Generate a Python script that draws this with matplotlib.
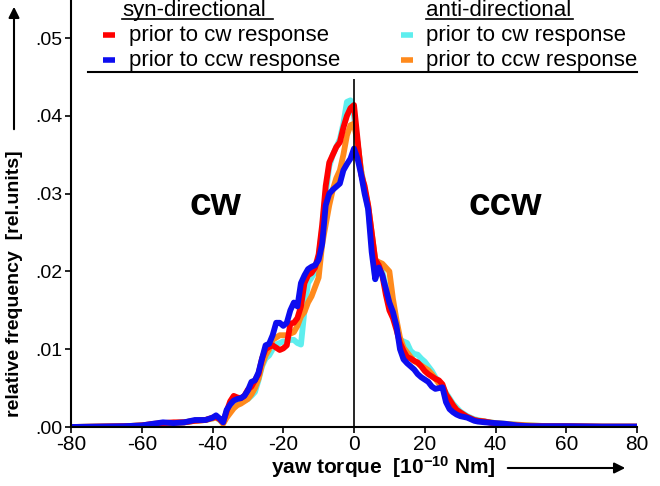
import matplotlib
matplotlib.use("Agg")
import matplotlib.pyplot as plt
from matplotlib.lines import Line2D
from matplotlib.patches import FancyArrowPatch
from matplotlib.ticker import FuncFormatter

plt.rcParams["font.family"] = ["Liberation Sans", "DejaVu Sans"]
plt.rcParams["mathtext.fontset"] = "custom"
plt.rcParams["mathtext.rm"] = "Liberation Sans"
plt.rcParams["mathtext.default"] = "regular"
plt.rcParams["axes.unicode_minus"] = False

# yaw torque bins [10^-10 Nm]
torque = ([-80, -65, -60, -57, -54, -51, -48, -45, -42]
          + list(range(-40, 36))
          + [37, 40, 43, 46, 50, 55, 60, 70, 80])

# syn-directional
syn_cw = ([0.0, 0.0001, 0.0002, 0.0004, 0.0005, 0.0006, 0.0006, 0.0008, 0.0009,
           0.0012, 0.0013, 0.0010, 0.0006, 0.0020, 0.0033, 0.0040, 0.0038, 0.0037, 0.0040,
           0.0048, 0.0052, 0.0060, 0.0068, 0.0088, 0.0100, 0.0103, 0.0105, 0.0102, 0.0099,
           0.0101, 0.0105, 0.0133, 0.0134, 0.0140, 0.0155, 0.0185, 0.0195, 0.0198, 0.0205,
           0.0222, 0.0260, 0.0310, 0.0340, 0.0350, 0.0360, 0.0366, 0.0385, 0.0400, 0.0410,
           0.0414, 0.0370, 0.0325, 0.0310, 0.0285, 0.0250, 0.0215, 0.0208, 0.0195, 0.0170,
           0.0150, 0.0140, 0.0125, 0.0108, 0.0098, 0.0090, 0.0088, 0.0085, 0.0083, 0.0078,
           0.0072, 0.0068, 0.0065, 0.0062, 0.0060, 0.0055, 0.0042, 0.0035, 0.0028, 0.0022,
           0.0019, 0.0016, 0.0013, 0.0011, 0.0009, 0.0008]
          + [0.0007, 0.0004, 0.0003, 0.0002, 0.0001, 0.0001, 0.0001, 0.00005, 0.00005])
syn_ccw = ([0.0, 0.0001, 0.0002, 0.0004, 0.0006, 0.0005, 0.0006, 0.0009, 0.0009,
            0.0012, 0.0015, 0.0011, 0.0006, 0.0022, 0.0029, 0.0034, 0.0036, 0.0037, 0.0040,
            0.0047, 0.0058, 0.0060, 0.0070, 0.0088, 0.0105, 0.0107, 0.0118, 0.0134, 0.0134,
            0.0130, 0.0134, 0.0150, 0.0160, 0.0155, 0.0185, 0.0195, 0.0203, 0.0206, 0.0208,
            0.0215, 0.0235, 0.0285, 0.0300, 0.0305, 0.0309, 0.0313, 0.0330, 0.0338, 0.0345,
            0.0358, 0.0345, 0.0325, 0.0300, 0.0280, 0.0225, 0.0190, 0.0205, 0.0195, 0.0178,
            0.0160, 0.0148, 0.0130, 0.0100, 0.0087, 0.0082, 0.0078, 0.0074, 0.0068, 0.0064,
            0.0061, 0.0058, 0.0052, 0.0049, 0.0050, 0.0051, 0.0032, 0.0023, 0.0019, 0.0016,
            0.0014, 0.0013, 0.0012, 0.0010, 0.0008, 0.0007]
           + [0.0006, 0.0005, 0.0004, 0.0002, 0.0001, 0.0001, 0.0001, 0.00005, 0.00005])

# anti-directional
anti_cw = ([0.0, 0.0001, 0.0002, 0.0003, 0.0005, 0.0005, 0.0006, 0.0008, 0.0009,
            0.0011, 0.0012, 0.0009, 0.0005, 0.0015, 0.0022, 0.0027, 0.0030, 0.0032, 0.0034,
            0.0036, 0.0040, 0.0045, 0.0060, 0.0078, 0.0088, 0.0092, 0.0100, 0.0106, 0.0108,
            0.0110, 0.0110, 0.0112, 0.0112, 0.0108, 0.0106, 0.0150, 0.0185, 0.0192, 0.0200,
            0.0218, 0.0255, 0.0300, 0.0335, 0.0350, 0.0360, 0.0370, 0.0390, 0.0418, 0.0420,
            0.0400, 0.0365, 0.0330, 0.0305, 0.0280, 0.0240, 0.0190, 0.0210, 0.0200, 0.0180,
            0.0162, 0.0148, 0.0130, 0.0112, 0.0110, 0.0108, 0.0098, 0.0094, 0.0093, 0.0088,
            0.0084, 0.0078, 0.0072, 0.0064, 0.0058, 0.0052, 0.0044, 0.0037, 0.0030, 0.0025,
            0.0020, 0.0017, 0.0014, 0.0012, 0.0010, 0.0009]
           + [0.0007, 0.0005, 0.0004, 0.0003, 0.0002, 0.0001, 0.0001, 0.00005, 0.00005])
anti_ccw = ([0.0, 0.0001, 0.0002, 0.0003, 0.0005, 0.0005, 0.0006, 0.0008, 0.0009,
             0.0011, 0.0012, 0.0010, 0.0004, 0.0012, 0.0018, 0.0024, 0.0028, 0.0030, 0.0033,
             0.0036, 0.0042, 0.0050, 0.0062, 0.0080, 0.0092, 0.0100, 0.0112, 0.0115, 0.0118,
             0.0118, 0.0118, 0.0120, 0.0122, 0.0130, 0.0142, 0.0148, 0.0160, 0.0168, 0.0180,
             0.0192, 0.0235, 0.0260, 0.0285, 0.0305, 0.0320, 0.0330, 0.0350, 0.0375, 0.0388,
             0.0390, 0.0365, 0.0330, 0.0305, 0.0285, 0.0250, 0.0215, 0.0212, 0.0210, 0.0205,
             0.0200, 0.0165, 0.0138, 0.0115, 0.0102, 0.0096, 0.0090, 0.0085, 0.0082, 0.0079,
             0.0076, 0.0073, 0.0068, 0.0062, 0.0056, 0.0050, 0.0042, 0.0035, 0.0028, 0.0022,
             0.0018, 0.0015, 0.0013, 0.0011, 0.0009, 0.0008]
            + [0.0007, 0.0005, 0.0004, 0.0003, 0.0002, 0.0001, 0.0001, 0.00005, 0.00005])

series_labels = ["prior to cw response", "prior to ccw response"]
col_red, col_blue = "#ff0000", "#0d0df0"
col_cyan, col_orange = "#5eeeee", "#ff8a1c"

W, H = 660, 486
fig = plt.figure(figsize=(W / 100, H / 100), dpi=100)


def fx(px):
    return px / W


def fy(py):
    return 1 - py / H


ax = fig.add_axes([fx(71), fy(427), fx(566), 427 / H])

lw = 4.2
for vals, col in [(anti_cw, col_cyan), (anti_ccw, col_orange), (syn_cw, col_red), (syn_ccw, col_blue)]:
    ax.plot(torque, vals, color=col, lw=lw, solid_joinstyle="round")

ax.vlines(0, 0, 0.0448, color="black", lw=1.2)

ax.set_xlim(-80, 80)
ax.set_ylim(0, 0.0549)
ax.set_xticks(range(-80, 81, 20))
ax.set_yticks([0, 0.01, 0.02, 0.03, 0.04, 0.05])
ax.yaxis.set_major_formatter(FuncFormatter(lambda v, p: f"{v:.2f}".lstrip("0")))
ax.tick_params(direction="out", length=4, width=1.2, labelsize=15, pad=2)
ax.tick_params(axis="y", labelsize=14)
for s in ["top", "right"]:
    ax.spines[s].set_visible(False)
for s in ["left", "bottom"]:
    ax.spines[s].set_linewidth(1.5)

# direction labels
fig.text(fx(215), fy(205), "cw", fontsize=28, fontweight="bold", ha="center", va="center")
fig.text(fx(505), fy(205), "ccw", fontsize=28, fontweight="bold", ha="center", va="center")

# axis labels with arrows
fig.text(fx(15), fy(284), "relative frequency  [rel.units]", rotation=90,
         fontsize=14, fontweight="bold", ha="center", va="center")
fig.add_artist(FancyArrowPatch((fx(14), fy(132)), (fx(14), fy(4)), transform=fig.transFigure,
                               arrowstyle="-|>", mutation_scale=16, lw=1.5, color="black"))
fig.text(fx(271), fy(467), "yaw torque  [10$^{-10}$ Nm]", fontsize=15, fontweight="bold",
         ha="left", va="center")
fig.add_artist(FancyArrowPatch((fx(505), fy(468)), (fx(628), fy(468)), transform=fig.transFigure,
                               arrowstyle="-|>", mutation_scale=16, lw=1.5, color="black"))

# legend
legend_fs = 16
heads = [("syn-directional", 122, 273), ("anti-directional", 426, 573)]
for txt, x0, x1 in heads:
    fig.text(fx(x0), fy(16), txt, fontsize=legend_fs, ha="left", va="baseline")
    fig.add_artist(Line2D([fx(x0), fx(x1)], [fy(19), fy(19)], color="black", lw=1.2))

rows = [(103, 129, 35, 41, col_red, series_labels[0]),
        (103, 129, 60, 66, col_blue, series_labels[1]),
        (401, 426, 35, 41, col_cyan, series_labels[0]),
        (401, 426, 60, 66, col_orange, series_labels[1])]
for px0, tx, py, by, col, txt in rows:
    fig.add_artist(Line2D([fx(px0), fx(px0 + 12)], [fy(py), fy(py)], color=col, lw=4,
                          solid_capstyle="butt"))
    fig.text(fx(tx), fy(by), txt, fontsize=legend_fs, ha="left", va="baseline")
fig.add_artist(Line2D([fx(88), fx(637)], [fy(72), fy(72)], color="black", lw=1.5))

fig.savefig("out.png", dpi=100)
